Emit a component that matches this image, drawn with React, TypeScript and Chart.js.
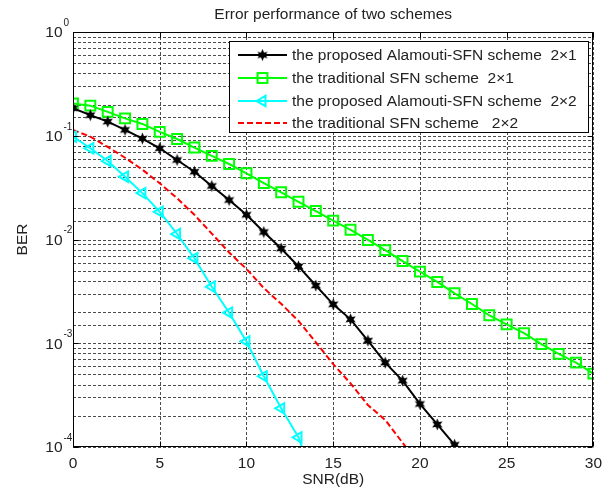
import React, { useEffect, useRef } from 'react';
import { Chart, registerables } from 'chart.js';

Chart.register(...registerables);

const chartTitle = 'Error performance of two schemes';
const xAxisLabel = 'SNR(dB)';
const yAxisLabel = 'BER';

const xTickValues = [0, 5, 10, 15, 20, 25, 30];
const yDecadeExponents = [0, -1, -2, -3, -4];

const seriesLabels = [
  'the proposed Alamouti-SFN scheme  2×1',
  'the traditional SFN scheme  2×1',
  'the proposed Alamouti-SFN scheme  2×2',
  'the traditional SFN scheme   2×2',
];

// proposed Alamouti-SFN 2x1 (black, star markers)
const snrProposed21 = [0, 1, 2, 3, 4, 5, 6, 7, 8, 9, 10, 11, 12, 13, 14, 15, 16, 17, 18, 19, 20, 21, 22];
const berProposed21 = [0.184, 0.158, 0.137, 0.114, 0.094, 0.0757, 0.0584, 0.045, 0.0328, 0.024, 0.0173, 0.0118, 0.0082, 0.0055, 0.0036, 0.00237, 0.0017, 0.00106, 0.00065, 0.000436, 0.00026, 0.000165, 0.000105];

// traditional SFN 2x1 (green, squares)
const snrTraditional21 = [0, 1, 2, 3, 4, 5, 6, 7, 8, 9, 10, 11, 12, 13, 14, 15, 16, 17, 18, 19, 20, 21, 22, 23, 24, 25, 26, 27, 28, 29, 30];
const berTraditional21 = [0.205, 0.195, 0.17, 0.147, 0.13, 0.109, 0.093, 0.077, 0.064, 0.0534, 0.0435, 0.035, 0.0285, 0.0231, 0.0188, 0.0152, 0.0124, 0.0099, 0.0079, 0.0062, 0.0049, 0.0039, 0.00303, 0.00239, 0.00186, 0.00152, 0.00125, 0.00098, 0.00079, 0.00065, 0.00051];

// proposed Alamouti-SFN 2x2 (cyan, left triangles)
const snrProposed22 = [0, 1, 2, 3, 4, 5, 6, 7, 8, 9, 10, 11, 12, 13, 14];
const berProposed22 = [0.098, 0.0757, 0.0571, 0.0403, 0.028, 0.0185, 0.0113, 0.0066, 0.0035, 0.00197, 0.00104, 0.00048, 0.000236, 0.000124, 0.000042];

// traditional SFN 2x2 (red dashed)
const snrTraditional22 = [0, 1, 2, 3, 4, 5, 6, 7, 8, 9, 10, 11, 12, 13, 14, 15, 16, 17, 18, 19, 20];
const berTraditional22 = [0.1136, 0.098, 0.078, 0.0614, 0.0471, 0.0348, 0.025, 0.0173, 0.0114, 0.0075, 0.0052, 0.0034, 0.0024, 0.00164, 0.00102, 0.00063, 0.00041, 0.000254, 0.000182, 0.00011, 0.000065];

const FONT = "'Liberation Sans', Arial, sans-serif";
const TEXT = '#222';
const FS = 15.5;

function toPoints(xs: number[], ys: number[]) {
  return xs.map((x, i) => ({ x, y: ys[i] }));
}

function makeHexagram(): HTMLCanvasElement {
  const c = document.createElement('canvas');
  const s = 13;
  c.width = s;
  c.height = s;
  const ctx = c.getContext('2d')!;
  ctx.fillStyle = '#000';
  ctx.beginPath();
  for (let i = 0; i < 12; i++) {
    const r = i % 2 === 0 ? 6 : 3;
    const a = -Math.PI / 2 + (i * Math.PI) / 6;
    ctx.lineTo(s / 2 + r * Math.cos(a), s / 2 + r * Math.sin(a));
  }
  ctx.closePath();
  ctx.fill();
  return c;
}

function drawMarker(ctx: CanvasRenderingContext2D, ds: any, x: number, y: number) {
  const style = ds.pointStyle;
  const r = ds.pointRadius;
  if (!r) return;
  ctx.save();
  ctx.setLineDash([]);
  if (style instanceof HTMLCanvasElement) {
    ctx.drawImage(style, x - style.width / 2, y - style.height / 2);
  } else if (style === 'rect') {
    const h = Math.SQRT1_2 * r;
    ctx.strokeStyle = ds.pointBorderColor;
    ctx.lineWidth = ds.pointBorderWidth;
    ctx.strokeRect(x - h, y - h, 2 * h, 2 * h);
  } else if (style === 'triangle') {
    let rad = ((ds.pointRotation || 0) * Math.PI) / 180;
    ctx.strokeStyle = ds.pointBorderColor;
    ctx.lineWidth = ds.pointBorderWidth;
    ctx.beginPath();
    ctx.moveTo(x + Math.sin(rad) * r, y - Math.cos(rad) * r);
    rad += (2 * Math.PI) / 3;
    ctx.lineTo(x + Math.sin(rad) * r, y - Math.cos(rad) * r);
    rad += (2 * Math.PI) / 3;
    ctx.lineTo(x + Math.sin(rad) * r, y - Math.cos(rad) * r);
    ctx.closePath();
    ctx.stroke();
  }
  ctx.restore();
}

const gridPlugin = {
  id: 'dashGrid',
  beforeDatasetsDraw(chart: any) {
    const { ctx, chartArea: a, scales } = chart;
    const xs = scales.x;
    const ys = scales.y;
    ctx.save();
    ctx.strokeStyle = 'rgba(0,0,0,0.7)';
    ctx.lineWidth = 1;
    ctx.setLineDash([3, 2]);
    ctx.beginPath();
    for (const t of xs.ticks) {
      const px = Math.round(xs.getPixelForValue(t.value)) + 0.5;
      ctx.moveTo(px, a.top);
      ctx.lineTo(px, a.bottom);
    }
    for (const t of ys.ticks) {
      const py = Math.round(ys.getPixelForValue(t.value)) + 0.5;
      ctx.moveTo(a.left, py);
      ctx.lineTo(a.right, py);
    }
    ctx.stroke();
    ctx.restore();
  },
};

const decorPlugin = {
  id: 'decor',
  afterDraw(chart: any) {
    const { ctx, chartArea: a, scales } = chart;
    const xs = scales.x;
    const ys = scales.y;
    const L = Math.round(a.left) + 0.5;
    const R = Math.round(a.right) - 0.5;
    const T = Math.round(a.top) + 0.5;
    const B = Math.round(a.bottom) - 0.5;
    ctx.save();
    ctx.setLineDash([]);
    ctx.strokeStyle = '#000';
    ctx.lineWidth = 1;
    // inner tick marks
    ctx.beginPath();
    for (const v of xTickValues) {
      const px = Math.round(xs.getPixelForValue(v)) + 0.5;
      ctx.moveTo(px, B);
      ctx.lineTo(px, B - 5);
      ctx.moveTo(px, T);
      ctx.lineTo(px, T + 5);
    }
    for (const e of yDecadeExponents) {
      const py = Math.round(ys.getPixelForValue(Math.pow(10, e))) + 0.5;
      ctx.moveTo(L, py);
      ctx.lineTo(L + 5, py);
      ctx.moveTo(R, py);
      ctx.lineTo(R - 5, py);
    }
    ctx.stroke();
    // axes box
    ctx.strokeRect(L, T, R - L, B - T);

    // y tick labels with superscript exponents
    ctx.fillStyle = TEXT;
    for (const e of yDecadeExponents) {
      const py = ys.getPixelForValue(Math.pow(10, e));
      ctx.font = `${FS}px ${FONT}`;
      ctx.textAlign = 'right';
      ctx.textBaseline = 'middle';
      ctx.fillText('10', L - 11, py + 1);
      ctx.font = `10px ${FONT}`;
      ctx.textAlign = 'left';
      ctx.fillText(String(e), L - 10, py - 9);
    }

    // title
    ctx.font = `${FS}px ${FONT}`;
    ctx.textAlign = 'center';
    ctx.textBaseline = 'middle';
    ctx.fillText(chartTitle, (a.left + a.right) / 2, 15);

    // legend box
    const bx = 229.5, by = 41.5, bw = 359, bh = 91;
    ctx.fillStyle = '#fff';
    ctx.fillRect(bx, by, bw, bh);
    ctx.strokeStyle = '#000';
    ctx.lineWidth = 1;
    ctx.strokeRect(bx, by, bw, bh);
    const rows = [55, 78, 101, 123];
    chart.data.datasets.forEach((ds: any, i: number) => {
      const cy = rows[i];
      ctx.save();
      ctx.strokeStyle = ds.borderColor;
      ctx.lineWidth = ds.borderWidth;
      ctx.setLineDash(ds.borderDash || []);
      ctx.beginPath();
      ctx.moveTo(238, cy);
      ctx.lineTo(287, cy);
      ctx.stroke();
      ctx.restore();
      drawMarker(ctx, ds, 262.5, cy);
      ctx.fillStyle = TEXT;
      ctx.font = `${FS}px ${FONT}`;
      ctx.textAlign = 'left';
      ctx.textBaseline = 'middle';
      ctx.fillText(ds.label, 292, cy + 1);
    });
    ctx.restore();
  },
};

export default function App() {
  const canvasRef = useRef<HTMLCanvasElement | null>(null);

  useEffect(() => {
    if (!canvasRef.current) return;
    const hexagram = makeHexagram();
    const chart = new Chart(canvasRef.current, {
      type: 'line',
      data: {
        datasets: [
          {
            label: seriesLabels[0],
            data: toPoints(snrProposed21, berProposed21),
            borderColor: '#000',
            backgroundColor: '#000',
            borderWidth: 2,
            pointStyle: hexagram as any,
            pointRadius: 5,
            pointBorderColor: '#000',
            pointBackgroundColor: '#000',
            pointBorderWidth: 0,
          },
          {
            label: seriesLabels[1],
            data: toPoints(snrTraditional21, berTraditional21),
            borderColor: '#00ff00',
            backgroundColor: 'rgba(0,0,0,0)',
            borderWidth: 2,
            pointStyle: 'rect',
            pointRadius: 7,
            pointBorderColor: '#00ff00',
            pointBackgroundColor: 'rgba(0,0,0,0)',
            pointBorderWidth: 2,
          },
          {
            label: seriesLabels[2],
            data: toPoints(snrProposed22, berProposed22),
            borderColor: '#00ffff',
            backgroundColor: 'rgba(0,0,0,0)',
            borderWidth: 2,
            pointStyle: 'triangle',
            pointRotation: -90,
            pointRadius: 6,
            pointBorderColor: '#00ffff',
            pointBackgroundColor: 'rgba(0,0,0,0)',
            pointBorderWidth: 2,
          },
          {
            label: seriesLabels[3],
            data: toPoints(snrTraditional22, berTraditional22),
            borderColor: '#ff0000',
            backgroundColor: 'rgba(0,0,0,0)',
            borderWidth: 2,
            borderDash: [6, 3],
            pointRadius: 0,
          },
        ],
      },
      options: {
        animation: false,
        responsive: false,
        devicePixelRatio: 1,
        events: [],
        layout: { padding: { top: 32, right: 14, left: 0, bottom: 0 } },
        plugins: {
          legend: { display: false },
          title: { display: false },
          tooltip: { enabled: false },
        },
        scales: {
          x: {
            type: 'linear',
            min: 0,
            max: 30,
            afterFit: (s: any) => {
              s.height = 48;
            },
            ticks: {
              stepSize: 5,
              autoSkip: false,
              color: TEXT,
              font: { family: FONT, size: FS },
              padding: 7,
              maxRotation: 0,
            },
            grid: { display: false, drawTicks: false },
            border: { display: false },
            title: {
              display: true,
              text: xAxisLabel,
              color: TEXT,
              font: { family: FONT, size: FS },
              padding: { top: 0, bottom: 6 },
            },
          },
          y: {
            type: 'logarithmic',
            min: 0.0001,
            max: 1,
            afterFit: (s: any) => {
              s.width = 73;
            },
            ticks: { display: false },
            grid: { display: false, drawTicks: false },
            border: { display: false },
            title: {
              display: true,
              text: yAxisLabel,
              color: TEXT,
              font: { family: FONT, size: FS },
              padding: { top: 13, bottom: 0 },
            },
          },
        },
      },
      plugins: [gridPlugin, decorPlugin],
    });
    return () => chart.destroy();
  }, []);

  return (
    <div style={{ position: 'fixed', left: 0, top: 0, width: 609, height: 495, background: '#fff' }}>
      <canvas ref={canvasRef} width={609} height={495} style={{ display: 'block' }} />
    </div>
  );
}
